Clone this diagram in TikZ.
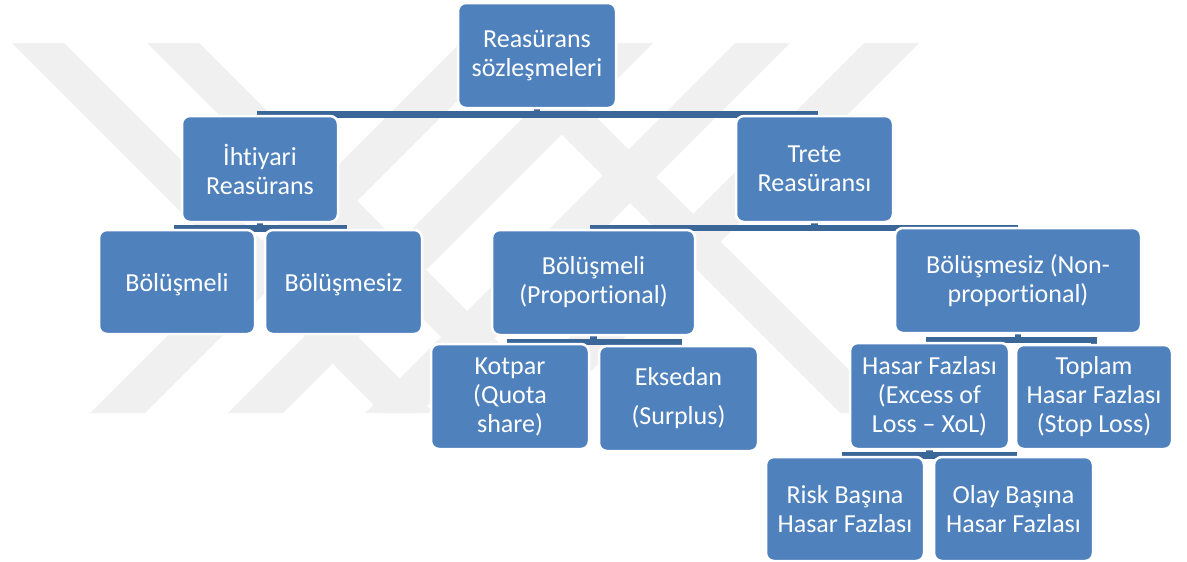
\documentclass[tikz,border=0pt]{standalone}
\usepackage{fontspec}
\setmainfont{Carlito}[Ligatures={NoCommon,NoContextual}]
\usetikzlibrary{backgrounds}
\definecolor{boxblue}{HTML}{4F81BD}
\definecolor{barblue}{HTML}{3B6698}
\definecolor{wm}{HTML}{F0F0F0}
\begin{document}
\begin{tikzpicture}[x=1pt,y=-1pt,
  box/.style={draw=white, line width=2.5pt, fill=boxblue, rounded corners=8pt,
    text=white, align=center, font=\fontsize{26}{29}\selectfont, inner sep=2pt,
    execute at begin node={\rule{0pt}{24pt}}},
  conn/.style={draw=barblue, line width=6.5pt},
]
\useasboundingbox (0,0) rectangle (1187,562);
% nodes
\node[box, minimum width=158pt, minimum height=105pt] (root) at (537,55.5) {Reasürans\\sözleşmeleri};
\node[box, minimum width=156pt, minimum height=106pt] (iht) at (260,169) {İhtiyari\\Reasürans};
\node[box, minimum width=157pt, minimum height=106pt] (tre) at (814.5,169) {Trete\\Reasüransı};
\node[box, minimum width=156pt, minimum height=104pt] (b1) at (177,282) {Bölüşmeli};
\node[box, minimum width=157pt, minimum height=104pt] (b2) at (343.5,282) {Bölüşmesiz};
\node[box, minimum width=203pt, minimum height=105pt] (prop) at (593.5,282.5) {Bölüşmeli\\(Proportional)};
\node[box, minimum width=246pt, minimum height=105pt] (nonp) at (1018,280.5) {Bölüşmesiz (Non-\\proportional)};
\node[box, minimum width=158pt, minimum height=105pt] (kot) at (510,396.5) {Kotpar\\(Quota\\share)};
\node[box, minimum width=159pt, minimum height=105pt] (eks) at (678.5,398.5) {Eksedan\\[10pt](Surplus)};
\node[box, minimum width=159pt, minimum height=106pt] (xol) at (929.5,396) {Hasar Fazlası\\(Excess of\\Loss – XoL)};
\node[box, minimum width=156pt, minimum height=104pt] (top) at (1094,397) {Toplam\\Hasar Fazlası\\(Stop Loss)};
\node[box, minimum width=158pt, minimum height=104pt] (risk) at (845,509) {Risk Başına\\Hasar Fazlası};
\node[box, minimum width=159pt, minimum height=104pt] (olay) at (1013.5,509) {Olay Başına\\Hasar Fazlası};
\begin{pgfonlayer}{background}
% watermark
\begin{scope}
  \clip (0,43) rectangle (1187,413);
  \foreach \xa in {12,147,470}{
    \fill[wm] (\xa,43) -- ++(52,0) -- ++(370,370) -- ++(-52,0) -- cycle;
  }
  \foreach \xb in {90,228,365,494}{
    \fill[wm] (\xb,413) -- ++(55,0) -- ++(370,-370) -- ++(-55,0) -- cycle;
  }
\end{scope}
% connectors
\draw[conn] (root.south) -- ++(0,5) -| (iht.north);
\draw[conn] (root.south) -- ++(0,5) -| (tre.north);
\draw[conn] (iht.south) -- ++(0,5) -| (b1.north);
\draw[conn] (iht.south) -- ++(0,5) -| (b2.north);
\draw[conn] (tre.south) -- ++(0,4.5) -| (prop.north);
\draw[conn] (tre.south) -- ++(0,4.5) -| (nonp.north);
\draw[conn] (prop.south) -- ++(0,5.5) -| (kot.north);
\draw[conn] (prop.south) -- ++(0,5.5) -| (eks.north);
\draw[conn] (nonp.south) -- ++(0,5.5) -| (xol.north);
\draw[conn] (nonp.south) -- ++(0,5.5) -| (top.north);
\draw[conn] (xol.south) -- ++(0,5) -| (risk.north);
\draw[conn] (xol.south) -- ++(0,5) -| (olay.north);
\end{pgfonlayer}
\end{tikzpicture}
\end{document}
